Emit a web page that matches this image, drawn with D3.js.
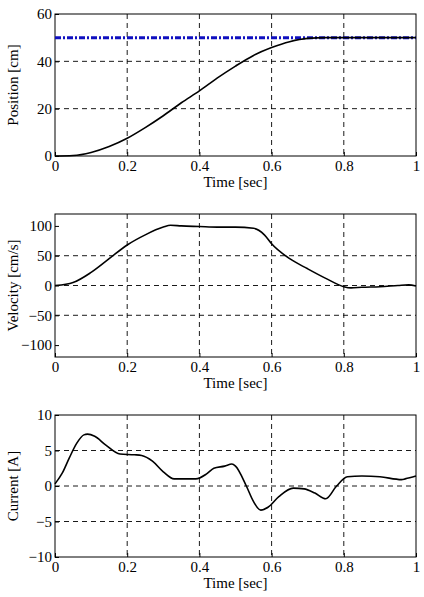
<!DOCTYPE html><html><head><meta charset="utf-8"><script src="https://cdn.jsdelivr.net/npm/d3@7"></script>
<style>body{margin:0;background:#fff}svg text{font-family:"Liberation Serif","Times New Roman","DejaVu Serif",serif !important;fill:#000}</style></head><body><svg id="c" width="424" height="597"></svg><script>
const xTicks=[0,0.2,0.4,0.6,0.8,1];
const posT=[0,0.05,0.1,0.15,0.2,0.25,0.3,0.35,0.4,0.45,0.5,0.55,0.6,0.65,0.7,0.75,0.8,0.9,1];
const posV=[0,0.2,1.5,4,7.5,12,17,22.5,27.5,33,38,42.5,45.8,48.3,49.7,50,50,50,50];
const refV=50;
const velT=[0,0.03,0.05,0.1,0.15,0.2,0.25,0.3,0.32,0.35,0.4,0.45,0.5,0.55,0.58,0.6,0.65,0.7,0.75,0.8,0.82,0.85,0.9,0.95,0.98,1];
const velV=[0,2,5,22,45,68,85,98,101,100,99,98,98,96,85,70,45,28,12,-2,-4,-3,-2,0,1,-1];
const curT=[0,0.02,0.04,0.06,0.08,0.09,0.11,0.14,0.18,0.22,0.24,0.27,0.3,0.33,0.36,0.39,0.42,0.44,0.47,0.49,0.5,0.53,0.55,0.57,0.59,0.62,0.66,0.69,0.72,0.75,0.78,0.81,0.85,0.9,0.96,0.97,1];
const curV=[0.3,1.8,4,6,7.2,7.3,7,5.8,4.5,4.4,4.3,3.5,2,1,1,1,1.7,2.5,2.8,3.1,2.8,0,-2.2,-3.4,-3,-1.5,-0.3,-0.4,-1,-1.8,0,1.3,1.4,1.3,0.9,1,1.4];
const svg=d3.select("#c");
const X0=55,X1=416;
function panel(top,bot,dom,ticks,label,series,ref){
  const x=d3.scaleLinear().domain([0,1]).range([X0,X1]);
  const y=d3.scaleLinear().domain(dom).range([bot,top]);
  const g=svg.append("g");
  g.selectAll(".vg").data(xTicks.slice(1,-1)).join("line").attr("x1",x).attr("x2",x).attr("y1",top).attr("y2",bot).attr("stroke","#000").attr("stroke-dasharray","5,4").attr("stroke-width",0.9);
  g.selectAll(".hg").data(ticks.slice(1,-1)).join("line").attr("y1",y).attr("y2",y).attr("x1",X0).attr("x2",X1).attr("stroke","#000").attr("stroke-dasharray","5,4").attr("stroke-width",0.9);
  const ax=d3.axisBottom(x).tickValues(xTicks).tickFormat(d3.format("")).tickSize(-4).tickPadding(4);
  g.append("g").attr("transform",`translate(0,${bot})`).call(ax).call(s=>{s.select(".domain").remove();s.attr("font-family",null);s.selectAll("text").attr("font-size",15)});
  const ay=d3.axisLeft(y).tickValues(ticks).tickSize(-4).tickPadding(3);
  g.append("g").attr("transform",`translate(${X0},0)`).call(ay).call(s=>{s.select(".domain").remove();s.attr("font-family",null);s.selectAll("text").attr("font-size",15)});
  g.append("rect").attr("x",X0).attr("y",top).attr("width",X1-X0).attr("height",bot-top).attr("fill","none").attr("stroke","#000");
  if(ref!==undefined) g.append("line").attr("x1",X0).attr("x2",X1).attr("y1",y(ref)).attr("y2",y(ref)).attr("stroke","#1010c0").attr("stroke-width",3).attr("stroke-dasharray","6,2,2,2");
  const [T,V]=series;
  g.append("path").datum(T.map((t,i)=>[t,V[i]])).attr("d",d3.line().x(d=>x(d[0])).y(d=>y(d[1])).curve(d3.curveMonotoneX)).attr("fill","none").attr("stroke","#000").attr("stroke-width",1.6);
  g.append("text").attr("x",(X0+X1)/2).attr("y",bot+31).attr("text-anchor","middle").attr("font-size",15).text("Time [sec]");
  g.append("text").attr("transform",`translate(${X0-37},${(top+bot)/2}) rotate(-90)`).attr("text-anchor","middle").attr("font-size",15).text(label);
}
panel(14,156,[0,60],[0,20,40,60],"Position [cm]",[posT,posV],refV);
panel(214,357,[-120,120],[-100,-50,0,50,100],"Velocity [cm/s]",[velT,velV]);
panel(415,557,[-10,10],[-10,-5,0,5,10],"Current [A]",[curT,curV]);
</script></body></html>
